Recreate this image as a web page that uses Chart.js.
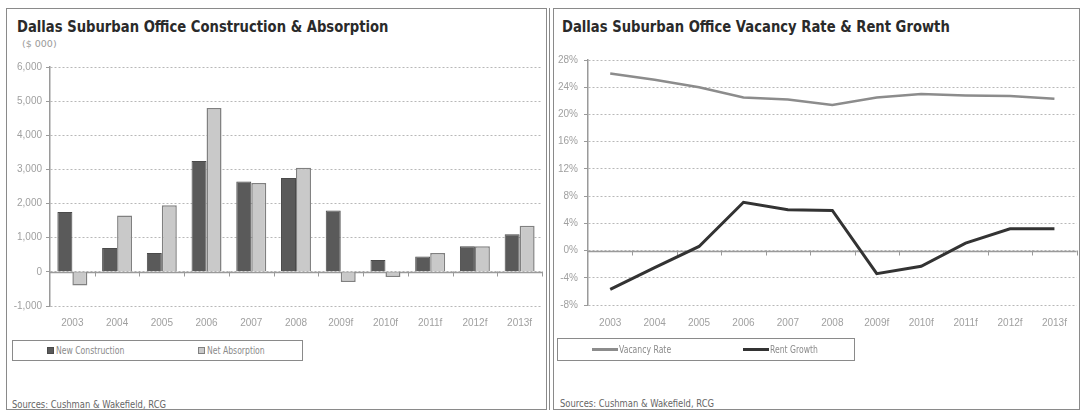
<!DOCTYPE html>
<html><head><meta charset="utf-8">
<script src="https://cdn.jsdelivr.net/npm/chart.js@4.4.1/dist/chart.umd.min.js"></script>
<style>
html,body{margin:0;padding:0;background:#fff;width:1081px;height:411px;overflow:hidden;}
.panel{position:absolute;border:1px solid #8a8a8a;background:#fff;box-sizing:content-box;}
.title,.unit,.src,.legend{font-family:'DejaVu Sans',sans-serif;}
.title{position:absolute;font-weight:bold;font-size:15.5px;color:#2a2a2a;white-space:nowrap;transform:scaleX(0.85);transform-origin:0 50%;}
.unit{position:absolute;font-size:9.5px;color:#999;white-space:nowrap;}
.src{position:absolute;font-size:10.5px;color:#666;white-space:nowrap;transform:scaleX(0.8);transform-origin:0 50%;}
.legend{position:absolute;border:1px solid #8a8a8a;box-sizing:border-box;font-size:10px;color:#8a8a8a;}
.li{position:absolute;top:0;height:100%;display:flex;align-items:center;white-space:nowrap;}
.lt{display:inline-block;transform:scaleX(0.77);transform-origin:0 50%;}
.sq{display:inline-block;width:7px;height:7px;margin-right:2px;box-sizing:border-box;}
.ln{display:inline-block;width:26px;height:3px;margin-right:1px;}
canvas{position:absolute;}
.vline{position:absolute;top:8px;width:1px;height:402px;background:#8a8a8a;}
</style></head>
<body>
<div class="panel" id="p1" style="left:6px;top:8px;width:539px;height:400px;">
  <div class="title" style="left:10px;top:9px;">Dallas Suburban Office Construction &amp; Absorption</div>
  <div class="unit" style="left:15px;top:29px;">($ 000)</div>
  <div style="position:absolute;left:0;top:41px;width:538px;height:290px;"><canvas id="c1"></canvas></div>
  <div class="legend" id="lg1" style="left:5px;top:331px;width:291px;height:21px;"></div>
  <div class="src" style="left:5px;top:389px;">Sources: Cushman &amp; Wakefield, RCG</div>
</div>
<div class="vline" style="left:549px;"></div>
<div class="panel" id="p2" style="left:553px;top:8px;width:525px;height:400px;">
  <div class="title" style="left:8px;top:9px;">Dallas Suburban Office Vacancy Rate &amp; Rent Growth</div>
  <div style="position:absolute;left:0;top:36px;width:525px;height:294px;"><canvas id="c2"></canvas></div>
  <div class="legend" id="lg2" style="left:3px;top:329px;width:298px;height:23px;"></div>
  <div class="src" style="left:6px;top:388px;">Sources: Cushman &amp; Wakefield, RCG</div>
</div>
<script>
// ---- data ----
const categories = ['2003','2004','2005','2006','2007','2008','2009f','2010f','2011f','2012f','2013f'];
const newConstruction = [1750, 700, 550, 3250, 2650, 2750, 1800, 350, 450, 750, 1100];
const netAbsorption = [-400, 1650, 1950, 4800, 2600, 3050, -300, -150, 550, 750, 1350];
const barSeriesNames = ['New Construction', 'Net Absorption'];
const vacancyRate = [26.0, 25.1, 24.0, 22.5, 22.2, 21.4, 22.5, 23.0, 22.8, 22.7, 22.3];
const rentGrowth = [-5.7, -2.5, 0.6, 7.1, 6.0, 5.9, -3.4, -2.3, 1.1, 3.2, 3.2];
const lineSeriesNames = ['Vacancy Rate', 'Rent Growth'];
const leftTicks = {min: -1000, max: 6000, step: 1000};
const rightTicks = {min: -8, max: 28, step: 4};

const FONT = "'Liberation Sans',Arial,sans-serif";

const zeroPlugin = {
  id: 'zeroLine',
  beforeDatasetsDraw(chart) {
    const {ctx, chartArea, scales} = chart;
    const x = scales.x, y = scales.y;
    const y0 = Math.round(y.getPixelForValue(0)) + 0.5;
    ctx.save();
    ctx.strokeStyle = '#9a9a9a';
    ctx.lineWidth = 1.5;
    ctx.beginPath(); ctx.moveTo(chartArea.left, y0); ctx.lineTo(chartArea.right, y0); ctx.stroke();
    ctx.lineWidth = 1;
    const n = x.ticks.length;
    for (let i = 1; i <= n; i++) {
      const bx = Math.round(chartArea.left + i * chartArea.width / n) + 0.5;
      ctx.beginPath(); ctx.moveTo(bx, y0 - 1); ctx.lineTo(bx, y0 + 4); ctx.stroke();
    }
    ctx.restore();
  }
};

function yScale(t, fmt, w, pad) {
  return {
    min: t.min, max: t.max,
    afterFit(s) { s.width = w; },
    ticks: {stepSize: t.step, color: '#a0a0a0', padding: pad, font: {family: FONT, size: 10}, callback: fmt},
    grid: {color: '#b8b8b8', tickColor: '#9a9a9a', tickLength: 4, lineWidth: 1},
    border: {display: true, color: '#9a9a9a', width: 1.5, dash: [2, 2]}
  };
}
function xScale(pad) {
  return {
    afterFit(s) { s.height = 34; },
    grid: {display: false, drawTicks: false},
    border: {display: false},
    ticks: {color: '#a0a0a0', padding: pad, font: {family: FONT, size: 10}, maxRotation: 0, autoSkip: false}
  };
}

const barColors = ['#5a5a5a', '#c9c9c9'];
const barBorders = ['#4a4a4a', '#808080'];
const c1 = new Chart(document.getElementById('c1'), {
  type: 'bar',
  data: {
    labels: categories,
    datasets: [
      {label: barSeriesNames[0], data: newConstruction, backgroundColor: barColors[0], borderColor: barBorders[0], borderWidth: 1},
      {label: barSeriesNames[1], data: netAbsorption, backgroundColor: barColors[1], borderColor: barBorders[1], borderWidth: 1.5}
    ]
  },
  options: {
    responsive: true, maintainAspectRatio: false, animation: false,
    layout: {padding: {top: 17, right: 3, left: 0, bottom: 0}},
    plugins: {legend: {display: false}, tooltip: {enabled: false}},
    datasets: {bar: {categoryPercentage: 0.67, barPercentage: 1.0}},
    scales: {
      x: xScale(11),
      y: yScale(leftTicks, v => v.toLocaleString('en-US'), 43, 4)
    }
  },
  plugins: [zeroPlugin]
});

const lineColors = ['#8c8c8c', '#333333'];
const lineWidths = [2.5, 3];
const c2 = new Chart(document.getElementById('c2'), {
  type: 'line',
  data: {
    labels: categories,
    datasets: [
      {label: lineSeriesNames[0], data: vacancyRate, borderColor: lineColors[0], borderWidth: lineWidths[0], pointRadius: 0, tension: 0, fill: false},
      {label: lineSeriesNames[1], data: rentGrowth, borderColor: lineColors[1], borderWidth: lineWidths[1], pointRadius: 0, tension: 0, fill: false}
    ]
  },
  options: {
    responsive: true, maintainAspectRatio: false, animation: false,
    layout: {padding: {top: 15, right: 1, left: 0, bottom: 0}},
    plugins: {legend: {display: false}, tooltip: {enabled: false}},
    scales: {
      x: Object.assign(xScale(12), {offset: true}),
      y: yScale(rightTicks, v => v + '%', 34, 6)
    }
  },
  plugins: [zeroPlugin]
});

// HTML legends built from the datasets
function buildLegend(el, chart, kind, positions) {
  chart.data.datasets.forEach((ds, i) => {
    const it = document.createElement('div');
    it.className = 'li';
    it.style.left = positions[i] + 'px';
    const m = document.createElement('span');
    if (kind === 'bar') {
      m.className = 'sq';
      m.style.background = ds.backgroundColor;
      m.style.border = '1px solid ' + ds.borderColor;
    } else {
      m.className = 'ln';
      m.style.background = ds.borderColor;
    }
    it.appendChild(m);
    const t = document.createElement('span');
    t.className = 'lt';
    t.textContent = ds.label;
    it.appendChild(t);
    el.appendChild(it);
  });
}
buildLegend(document.getElementById('lg1'), c1, 'bar', [34, 185]);
buildLegend(document.getElementById('lg2'), c2, 'line', [34, 185]);
</script>
</body></html>
